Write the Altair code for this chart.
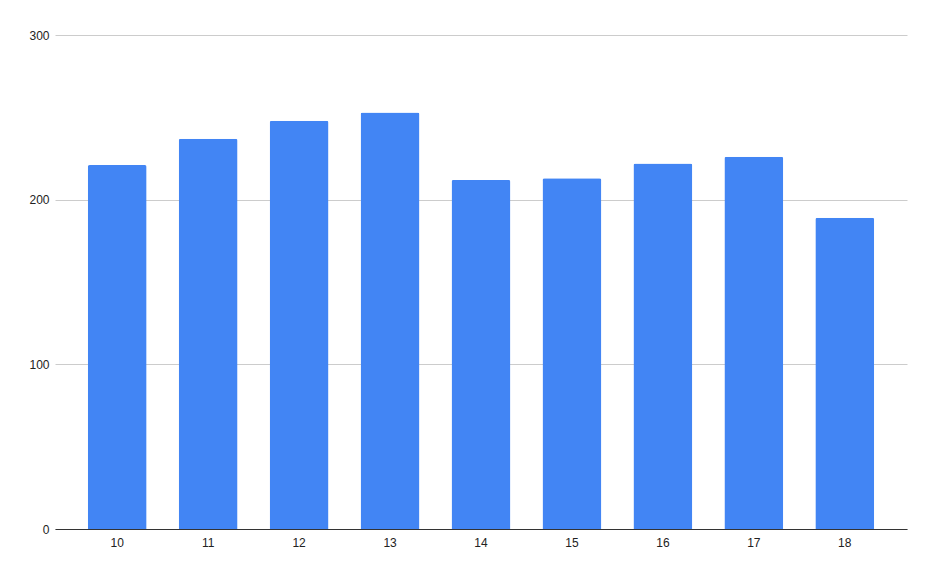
import altair as alt
import pandas as pd

categories = ["10", "11", "12", "13", "14", "15", "16", "17", "18"]
values = [221, 237, 248, 253, 212, 213, 222, 226, 189]

df = pd.DataFrame({"cat": categories, "val": values})

chart = alt.Chart(df).mark_bar(
    color="#4285F4", cornerRadiusTopLeft=2, cornerRadiusTopRight=2
).encode(
    x=alt.X("cat:N", sort=categories,
            scale=alt.Scale(paddingInner=0.352, paddingOuter=0.36),
            axis=alt.Axis(title=None, labelAngle=0, ticks=False, grid=False,
                          domain=True, domainColor="#333333", domainWidth=1,
                          labelFont="Arial", labelFontSize=12, labelColor="#222222",
                          labelPadding=8)),
    y=alt.Y("val:Q", scale=alt.Scale(domain=[0, 300], nice=False),
            axis=alt.Axis(title=None, values=[0, 100, 200, 300], ticks=False,
                          domain=False, grid=True, gridColor="#cccccc", gridWidth=1,
                          labelFont="Arial", labelFontSize=12, labelColor="#222222",
                          labelPadding=6)),
).properties(
    width=852, height=494,
    autosize=alt.AutoSizeParams(type="none"),
    padding={"left": 47, "top": 27, "right": 21, "bottom": 41},
    background="white",
).configure_view(strokeWidth=0, stroke="transparent")

chart.save("out.html", embed_options={"renderer": "svg", "actions": False})
